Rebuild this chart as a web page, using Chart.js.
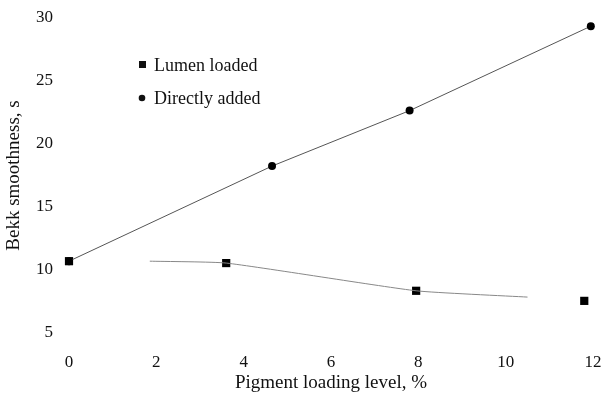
<!DOCTYPE html>
<html><head><meta charset="utf-8">
<script src="https://cdn.jsdelivr.net/npm/chart.js@4/dist/chart.umd.min.js"></script>
<style>html,body{margin:0;padding:0;background:#fff}#wrap{width:603px;height:407px}</style>
</head><body><div id="wrap"><canvas id="c" width="603" height="407"></canvas></div>
<script>
const directX = [0, 4.65, 7.8, 11.95];
const directY = [10.7, 18.25, 22.65, 29.35];
const lumenX = [0, 3.6, 7.95, 11.8];
const lumenY = [10.7, 10.55, 8.35, 7.55];
const lumenTrendX = [1.85, 3.6, 7.95, 10.5];
const lumenTrendY = [10.7, 10.55, 8.35, 7.85];
const xTicks = [0, 2, 4, 6, 8, 10, 12];
const yTicks = [5, 10, 15, 20, 25, 30];
const seriesNames = ['Lumen loaded', 'Directly added'];
const xTitle = 'Pigment loading level, %';
const yTitle = 'Bekk smoothness, s';

const pts = (xs, ys) => xs.map((x, i) => ({x, y: ys[i]}));
const FONT = "'Liberation Serif', 'Times New Roman', serif";

const legendPlugin = {
  id: 'inlegend',
  afterDraw(chart) {
    const ctx = chart.ctx;
    ctx.save();
    ctx.fillStyle = '#111';
    ctx.font = '18px ' + FONT;
    ctx.textBaseline = 'middle';
    const items = [
      {label: seriesNames[0], style: 'rect', y: 65},
      {label: seriesNames[1], style: 'circle', y: 98}
    ];
    items.forEach(it => {
      if (it.style === 'rect') ctx.fillRect(139, it.y - 4, 7, 7);
      else { ctx.beginPath(); ctx.arc(142, it.y, 3.3, 0, Math.PI * 2); ctx.fill(); }
      ctx.fillText(it.label, 154, it.y + 1);
    });
    ctx.restore();
  }
};

new Chart(document.getElementById('c'), {
  type: 'scatter',
  data: {
    datasets: [
      {label: 'trend', data: pts(lumenTrendX, lumenTrendY), showLine: true, borderColor: '#888', borderWidth: 1, pointRadius: 0, tension: 0.15, clip: false},
      {label: seriesNames[1], data: pts(directX, directY), showLine: true, borderColor: '#555', borderWidth: 1, pointStyle: 'circle', pointRadius: 4, backgroundColor: '#000', pointBorderWidth: 0, clip: false},
      {label: seriesNames[0], data: pts(lumenX, lumenY), showLine: false, pointStyle: 'rect', pointRadius: 5.8, backgroundColor: '#000', pointBorderWidth: 0, clip: false}
    ]
  },
  options: {
    responsive: false, animation: false,
    layout: {padding: {top: 18, right: 10, bottom: 0, left: 0}},
    plugins: {legend: {display: false}, tooltip: {enabled: false}},
    scales: {
      x: {
        type: 'linear', min: 0, max: 12,
        grid: {display: false, drawTicks: false}, border: {display: false},
        afterBuildTicks: s => { s.ticks = xTicks.map(v => ({value: v})); },
        ticks: {color: '#111', font: {family: FONT, size: 17}, padding: 19, maxRotation: 0},
        title: {display: true, text: xTitle, color: '#111', font: {family: FONT, size: 19}, padding: {top: 4, bottom: 13}},
        afterFit: s => { s.height = 74; s.paddingLeft = 0; s.paddingRight = 0; }
      },
      y: {
        type: 'linear', min: 5, max: 30,
        grid: {display: false, drawTicks: false}, border: {display: false},
        afterBuildTicks: s => { s.ticks = yTicks.map(v => ({value: v})); },
        ticks: {color: '#111', font: {family: FONT, size: 17}, padding: 16},
        title: {display: true, text: yTitle, color: '#111', font: {family: FONT, size: 19}, padding: {top: 3, bottom: 4}},
        afterFit: s => { s.width = 69; s.paddingTop = 0; s.paddingBottom = 0; }
      }
    }
  },
  plugins: [legendPlugin]
});
</script></body></html>
